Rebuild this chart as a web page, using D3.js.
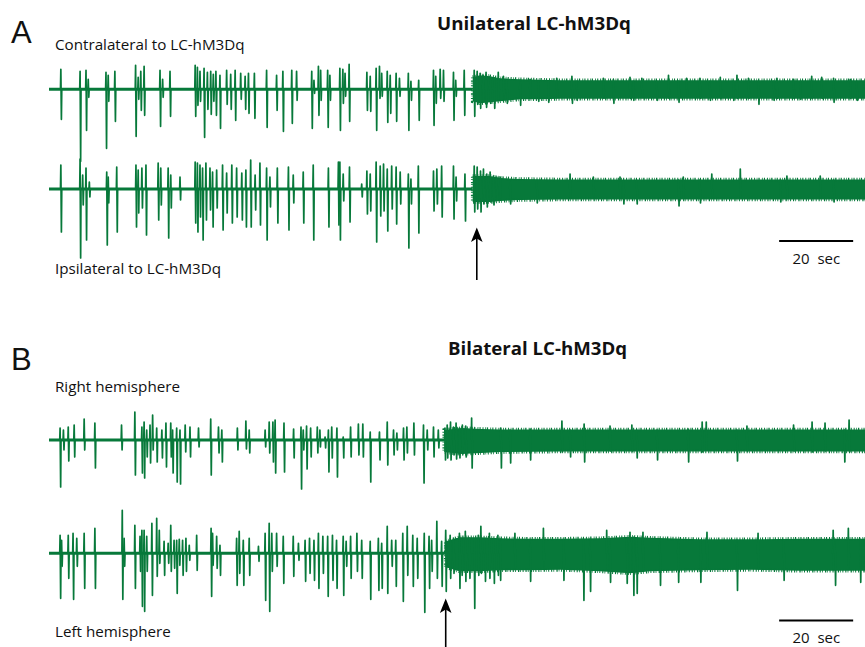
<!DOCTYPE html>
<html>
<head>
<meta charset="utf-8">
<script src="https://cdn.jsdelivr.net/npm/d3@7"></script>
<style>
  body { margin: 0; background: #fff; }
  text { font-family: "Open Sans", sans-serif; fill: #111; }
</style>
</head>
<body>
<svg id="chart" width="865" height="647"></svg>
<script>
"use strict";

// time axis is seconds, amplitudes are arbitrary units (1 unit ~ 1 px)
// strokes: [time, upward deflection, downward deflection]
const spikesA1 = [
  [3.2,20,30],[8.4,18,72],[10.0,19,41],[10.6,10,8],[15.4,17,59],[16.0,14,12],[17.8,18,32],
  [23.4,24,47],[24.1,12,10],[24.8,18,21],[25.7,23,26],[30.0,19,37],[30.7,10,8],[32.7,18,27],
  [39.5,24,27],[40.1,22,16],[40.8,18,12],[41.9,21,48],[42.8,17,20],[43.7,18,25],[44.4,15,12],
  [45.1,18,26],[46.2,14,39],[48.0,19,15],[49.1,15,20],[50.3,19,31],[51.8,16,10],[53.0,13,20],
  [53.9,16,24],[55.5,16,29],[58.8,19,38],[61.5,14,21],[63.2,18,42],[65.6,19,34],[66.9,18,11],
  [71.0,18,39],[71.6,9,4],[72.8,23,26],[73.4,19,11],[75.3,19,38],[75.9,14,11],[78.6,21,41],
  [79.4,20,14],[80.0,16,7],[81.1,25,32],[85.9,17,21],[86.8,13,22],[88.4,21,41],[89.3,23,9],
  [89.9,16,7],[91.4,18,33],[92.2,14,24],[93.8,16,32],[94.7,11,7],[97.1,16,41],[97.8,8,11],
  [99.9,9,31],[103.9,19,36],[104.5,13,14],[105.7,20,9],[106.6,19,12],[109.3,17,31],[109.9,9,7],
  [112.2,19,26],[114.9,19,27],
  [115.7,18,15],[116.5,16,19],[117.3,14,12],[118.1,17,18],[119.2,12,14],[120.3,11,19],[121.4,17,10],
  [122.8,13,9],[123.7,9,14],[127.3,9,16],[130.0,10,9],[132.2,8,12],[134.9,8,13],[137.2,11,8],
  [141.3,13,14],[142.6,8,11],[149.8,11,9],[152.5,10,14],[157.0,12,9],[157.9,8,11],[160.2,11,8],
  [164.2,8,11],[167.4,14,9],[170.1,8,13],[172.3,11,8],[175.9,11,9],[178.6,8,11],[181.4,12,9],
  [184.9,8,11],[185.9,14,9],[189.0,11,9],[191.7,8,15],[195.8,8,11],[196.7,11,9],[201.2,10,9],
  [203.0,8,10],[206.1,13,9],[208.8,12,9],[212.0,11,13],[216.5,10,9],[218.3,8,11]
];
const bandA1 = [
  [114.5,12,12],[116.5,14,14],[119.2,13,13],[121.9,11,12],[127.3,10,10],[132.7,9.5,10],
  [138.1,9,9.5],[148.9,9,9.5],[220.5,9,9.5]
];

const spikesA2 = [
  [3.2,24,43],[8.4,30,69],[9.1,14,16],[10.0,21,51],[10.9,7,8],[15.6,17,56],[16.0,12,14],
  [18.3,22,43],[23.5,24,38],[24.1,19,24],[25.1,21,19],[26.2,24,46],[29.5,26,31],[30.2,21,16],
  [32.2,21,49],[32.9,14,19],[35.4,12,11],[39.5,27,34],[40.1,26,43],[40.8,24,28],[41.5,21,51],
  [42.4,26,31],[43.5,21,21],[44.2,17,38],[45.3,19,19],[46.9,24,41],[48.0,16,24],[49.4,24,34],
  [50.7,21,28],[52.1,16,31],[53.2,19,38],[54.5,29,38],[55.7,14,21],[57.0,26,36],[58.8,21,51],
  [59.7,12,18],[61.7,21,34],[64.7,22,41],[66.0,14,14],[68.7,17,34],[71.4,24,51],[75.5,21,38],
  [78.2,27,36],[78.6,27,51],[79.5,15,12],[81.2,22,33],[84.5,5,8],[85.9,18,25],[86.8,15,22],
  [88.4,27,53],[89.5,23,27],[90.4,25,22],[91.4,20,42],[92.6,23,20],[93.8,22,35],[94.9,17,15],
  [97.1,15,59],[97.8,10,15],[99.8,23,44],[103.9,18,22],[104.8,20,15],[106.1,23,28],[109.3,23,30],
  [110.0,12,12],[112.4,15,32],[114.9,23,23],
  [115.7,22,20],[116.6,18,23],[117.4,20,15],[118.3,15,18],[119.2,17,13],[120.1,13,16],[121.0,12,11],
  [121.9,12,9],[124.6,9,15],[131.8,8,14],[140.8,15,9],[147.1,12,9],[154.3,12,9],[155.2,8,15],
  [158.8,9,15],[170.1,9,17],[171.4,12,9],[175.9,9,14],[179.1,15,9],[186.8,20,9],[197.6,9,13],
  [199.4,13,9],[208.4,13,9],[212.0,9,13]
];
const bandA2 = [
  [114.5,13,13],[119.2,13,13],[121.9,11,12],[127.3,10,11],[138.1,9.5,10.5],[148.9,9.5,10.5],[220.5,9.5,10.5]
];

const spikesB1 = [
  [3.0,12,47],[3.9,10,10],[5.2,13,21],[6.8,15,17],[9.5,21,10],[12.4,17,28],[19.6,15,10],
  [23.2,28,35],[25.1,13,33],[25.7,18,38],[26.4,10,17],[27.3,15,23],[28.0,25,10],[29.1,12,22],
  [30.5,10,18],[31.6,17,27],[32.9,17,17],[33.4,10,33],[34.5,12,42],[35.4,10,44],[36.8,15,12],
  [38.1,13,17],[40.4,12,7],[43.7,21,35],[45.8,13,13],[46.7,10,22],[50.9,12,10],[53.2,19,9],
  [54.1,10,13],[58.4,10,7],[59.5,18,13],[60.5,18,22],[61.1,20,33],[63.5,17,32],[66.1,11,18],
  [68.1,13,49],[68.7,10,10],[69.6,14,29],[70.7,12,17],[72.5,13,13],[73.2,10,7],[74.6,3,8],
  [75.5,10,32],[76.4,13,18],[77.8,12,37],[79.5,3,18],[81.5,13,17],[83.6,16,15],[84.8,16,17],
  [86.8,8,42],[89.3,8,20],[91.4,18,25],[93.1,10,15],[94.0,7,10],[95.8,12,20],[96.7,13,13],
  [98.6,17,15],[101.2,15,43],[102.2,10,10],[103.9,13,17],[105.2,10,8],[107.0,12,20],
  [107.6,15,18],[108.5,18,20],[109.3,13,15],[110.0,17,19],[110.9,12,18],[111.7,15,14],
  [112.6,14,17],[114.2,22,28],
  [122.1,12,28],[124.6,10,23],[130.0,11,20],[138.6,19,12],[140.8,10,17],[144.6,16,22],
  [151.6,14,11],[157.5,15,11],[158.8,10,18],[164.3,10,20],[172.7,11,22],[176.5,18,12],
  [177.6,18,10],[185.9,10,21],[188.6,14,11],[201.2,15,11],[206.2,18,12],[209.7,17,11],
  [214.9,10,22],[216.2,20,12]
];
const bandB1 = [
  [106.8,10,12],[111.6,12,14],[116.8,11,13],[121.9,10.5,12],[138.1,10.5,11.5],[148.9,10.5,11.5],[220.5,10.5,11.5]
];

const spikesB2 = [
  [3.0,18,45],[3.4,13,13],[5.2,18,25],[6.5,20,46],[7.5,15,13],[9.5,20,35],[12.4,25,35],
  [19.8,43,46],[20.3,15,13],[23.2,28,35],[24.6,17,18],[25.1,23,53],[25.7,23,58],[26.4,17,18],
  [27.8,30,42],[29.1,35,23],[29.8,23,10],[31.1,12,22],[32.2,10,10],[32.9,28,18],[33.8,13,15],
  [34.5,13,40],[35.2,14,12],[36.1,13,22],[37.0,15,18],[37.9,8,7],[39.9,18,17],[43.8,25,43],
  [44.2,20,12],[45.3,17,15],[46.2,8,22],[50.7,15,32],[51.4,22,20],[52.5,13,32],[54.1,15,22],
  [56.6,7,8],[58.4,20,47],[59.5,30,58],[60.2,20,18],[61.5,20,13],[63.3,17,30],[66.0,17,23],
  [67.4,10,7],[69.2,13,28],[70.4,15,20],[71.6,13,27],[72.8,20,35],[74.0,17,20],[75.3,17,43],
  [76.6,18,27],[77.7,13,35],[79.5,17,42],[80.3,12,13],[81.5,17,25],[83.2,20,18],[84.5,13,25],
  [86.8,12,46],[89.0,15,37],[89.9,10,35],[91.4,27,40],[92.6,13,13],[93.7,13,33],[95.6,20,48],
  [96.8,27,22],[98.3,18,33],[99.5,15,25],[101.4,20,59],[102.7,17,35],[103.4,13,18],[104.8,32,25],
  [106.1,12,33],[107.2,23,38],
  [108.4,18,25],[109.3,15,20],[110.9,20,35],[111.5,14,22],[112.5,22,28],[113.6,15,25],
  [114.9,13,55],[116.0,18,22],[116.7,27,20],[117.8,15,28],[119.0,20,25],[120.2,14,30],[121.3,18,22],
  [121.9,14,27],[125.9,20,15],[130.0,14,28],[133.6,25,15],[139.0,14,27],[144.4,14,47],
  [146.2,14,38],[150.7,23,16],[151.6,14,29],[156.1,15,30],[157.0,21,18],[157.9,16,42],
  [158.8,15,40],[160.5,21,18],[165.1,14,32],[170.0,13,29],[176.0,13,29],[177.8,21,16],
  [185.9,13,37],[191.6,20,16],[198.5,13,27],[211.9,23,16],[212.4,14,32],[216.0,25,16],[219.2,14,29]
];
const bandB2 = [
  [107.2,12,14],[110.9,16,18],[116.5,16,18],[121.9,15,17],[130.0,14.5,17],[138.1,14.5,16.5],
  [148.9,15,18],[157.0,16.5,20],[162.4,15.5,18],[175.9,14,17],[189.5,14,16.5],[203.0,14.5,17.5],[220.5,14.5,17.5]
];

// CNO injection times (arrows) and scale bar
const injectionA = 115.6;
const injectionB = 107.2;
const scaleStart = 197.3;
const scaleLen = 20;
const scaleLabel = "20  sec";

const panelLetters = ["A", "B"];
const panelTitles = ["Unilateral LC-hM3Dq", "Bilateral LC-hM3Dq"];
const traceLabels = ["Contralateral to LC-hM3Dq", "Ipsilateral to LC-hM3Dq", "Right hemisphere", "Left hemisphere"];

const green = "#07793a";
const svg = d3.select("#chart");

const x = d3.scaleLinear().domain([0, 220.5]).range([49, 865]);
const y = d3.scaleLinear().domain([-100, 100]).range([100, -100]);

const spikeLine = d3.line().x(d => x(d[0])).y(d => y(d[1]));
const bandArea = d3.area()
  .x(d => x(d[0]))
  .y0(d => y(-d[2]))
  .y1(d => y(d[1]));

function drawTrace(base, onset, spikes, band) {
  var g = svg.append("g").attr("transform", "translate(0," + base + ")");

  // quiet baseline
  g.append("path")
    .datum([[0, 0], [onset, 0]])
    .attr("d", spikeLine)
    .attr("stroke", green)
    .attr("stroke-width", 3.1)
    .attr("fill", "none");

  // desynchronised band, ragged edge
  g.append("path")
    .datum(band)
    .attr("d", bandArea)
    .attr("fill", green)
    .attr("stroke", green)
    .attr("stroke-width", 3.6)
    .attr("stroke-dasharray", "1 1.6 0.7 1 1.3 2.2 0.8 1.2 1.1 1.9");

  g.selectAll("path.spike")
    .data(spikes)
    .enter()
    .append("path")
    .attr("class", "spike")
    .attr("d", d => spikeLine([[d[0] - 0.1, 0], [d[0], d[1]], [d[0] + 0.15, -d[2]], [d[0] + 0.25, 0]]))
    .attr("stroke", green)
    .attr("stroke-width", 1.7)
    .attr("stroke-linejoin", "round")
    .attr("fill", "none");
}

drawTrace(89.3, 114.5, spikesA1, bandA1);
drawTrace(189, 114.5, spikesA2, bandA2);
drawTrace(440, 106.8, spikesB1, bandB1);
drawTrace(553.3, 107.2, spikesB2, bandB2);

// arrows
function arrow(t, tipY, bottomY) {
  var ax = x(t);
  svg.append("line")
    .attr("x1", ax).attr("x2", ax)
    .attr("y1", bottomY).attr("y2", tipY + 8)
    .attr("stroke", "#000").attr("stroke-width", 1.6);
  svg.append("path")
    .attr("d", "M" + ax + "," + tipY + " L" + (ax + 5.8) + "," + (tipY + 14.5) +
      " L" + ax + "," + (tipY + 11) + " L" + (ax - 5.8) + "," + (tipY + 14.5) + "Z")
    .attr("fill", "#000");
}
arrow(injectionA, 227.5, 280);
arrow(injectionB, 598.5, 647);

// scale bars
[[241, 264], [620.5, 643]].forEach(function(p) {
  svg.append("line")
    .attr("x1", x(scaleStart)).attr("x2", x(scaleStart + scaleLen))
    .attr("y1", p[0]).attr("y2", p[0])
    .attr("stroke", "#000").attr("stroke-width", 2);
  svg.append("text")
    .attr("x", 792.5).attr("y", p[1])
    .attr("font-size", 15)
    .attr("xml:space", "preserve")
    .style("white-space", "pre")
    .text(scaleLabel);
});

// panel letters
svg.append("text").attr("x", 11).attr("y", 43.3)
  .style("font-family", "'Liberation Sans', Arial, sans-serif")
  .attr("font-size", 31).text(panelLetters[0]);
svg.append("text").attr("x", 11).attr("y", 370)
  .style("font-family", "'Liberation Sans', Arial, sans-serif")
  .attr("font-size", 31).text(panelLetters[1]);

// titles
svg.append("text").attr("x", 437).attr("y", 30)
  .attr("font-size", 17.5).attr("font-weight", "bold")
  .attr("textLength", 194).attr("lengthAdjust", "spacingAndGlyphs")
  .text(panelTitles[0]);
svg.append("text").attr("x", 448).attr("y", 355)
  .attr("font-size", 17.5).attr("font-weight", "bold")
  .attr("textLength", 179).attr("lengthAdjust", "spacingAndGlyphs")
  .text(panelTitles[1]);

// trace labels
[[50, 0], [274, 1], [391.5, 2], [636.5, 3]].forEach(function(p) {
  svg.append("text").attr("x", 55).attr("y", p[0])
    .attr("font-size", 15.2)
    .text(traceLabels[p[1]]);
});
</script>
</body>
</html>
